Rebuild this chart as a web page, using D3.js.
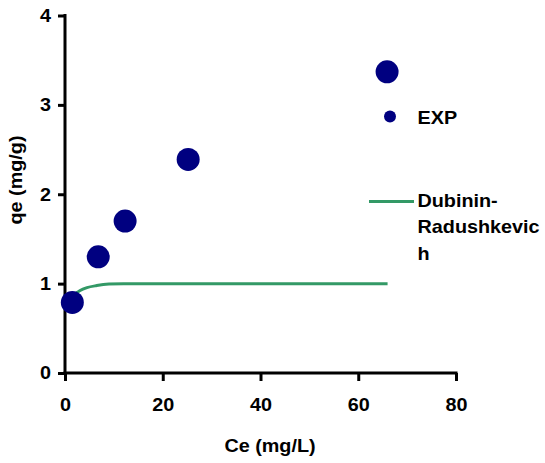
<!DOCTYPE html>
<html><head><meta charset="utf-8">
<script src="https://cdn.jsdelivr.net/npm/d3@7"></script>
<style>body{margin:0;background:#fff}svg{display:block}text{font-family:"Liberation Sans",Arial,sans-serif;font-weight:bold;fill:#000}</style>
</head><body>
<svg id="c" width="545" height="463"></svg>
<script>
const expCe = [1.5, 6.8, 12.3, 25.2, 65.9];
const expQe = [0.79, 1.30, 1.70, 2.39, 3.37];
const drCe = [1.5, 3, 4.5, 6.5, 9, 12, 20, 30, 40, 50, 60, 66];
const drQe = [0.86, 0.92, 0.955, 0.978, 0.995, 1.0, 1.0, 1.0, 1.0, 1.0, 1.0, 1.0];
const xTicks = [0, 20, 40, 60, 80];
const yTicks = [0, 1, 2, 3, 4];
const legendLabels = ["EXP", "Dubinin-", "Radushkevic", "h"];

const FS = "18px", SX = 1.1;
const svg = d3.select("#c");
const x = d3.scaleLinear().domain([0, 80]).range([65, 456]);
const y = d3.scaleLinear().domain([0, 4]).range([373, 15.5]);

const xAxis = svg.append("g").attr("transform", "translate(0,373)")
  .call(d3.axisBottom(x).tickValues(xTicks).tickFormat(d3.format("d")).tickSize(8).tickPadding(17).tickSizeOuter(0));
const yAxis = svg.append("g").attr("transform", "translate(65,0)")
  .call(d3.axisLeft(y).tickValues(yTicks).tickFormat(d3.format("d")).tickSize(7).tickPadding(7).tickSizeOuter(0));
[xAxis, yAxis].forEach(g => {
  g.select(".domain").attr("stroke", "#000").attr("stroke-width", 3);
  g.selectAll(".tick line").attr("stroke", "#000").attr("stroke-width", 3);
  g.selectAll(".tick text").style("font-size", FS).style("font-family", '"Liberation Sans",Arial,sans-serif')
    .style("font-weight", "bold").attr("fill", "#000").attr("transform", `scale(${SX},1)`);
});
yAxis.selectAll(".tick text").attr("x", -14 / SX);
xAxis.select(".domain").attr("d", `M${x(0)-1.5},0H${x(80)+1.5}`);
yAxis.select(".domain").attr("d", `M0,${y(0)+1.5}V${y(4)-1.5}`);

const line = d3.line().x((d, i) => x(drCe[i])).y((d, i) => y(drQe[i])).curve(d3.curveMonotoneX);
svg.append("path").datum(drCe).attr("d", line).attr("fill", "none").attr("stroke", "#339966").attr("stroke-width", 3);

svg.selectAll("circle.exp").data(expCe).enter().append("circle").attr("class", "exp")
  .attr("cx", d => x(d)).attr("cy", (d, i) => y(expQe[i])).attr("r", 11.5).attr("fill", "#000080");

function txt(px, py, s, anchor, rot) {
  return svg.append("text")
    .attr("transform", `translate(${px},${py})` + (rot ? ` rotate(${rot})` : "") + ` scale(${SX},1)`)
    .attr("text-anchor", anchor || "start").style("font-size", FS).text(s);
}

// legend
svg.append("circle").attr("cx", 390).attr("cy", 116.5).attr("r", 6).attr("fill", "#000080");
txt(417.5, 124, legendLabels[0]);
svg.append("line").attr("x1", 369).attr("x2", 414).attr("y1", 201.5).attr("y2", 201.5).attr("stroke", "#339966").attr("stroke-width", 3);
[207, 233, 259.5].forEach((by, i) => txt(417.5, by, legendLabels[i + 1]));

txt(270, 452, "Ce (mg/L)", "middle");
txt(22, 180, "qe (mg/g)", "middle", -90);
</script>
</body></html>
